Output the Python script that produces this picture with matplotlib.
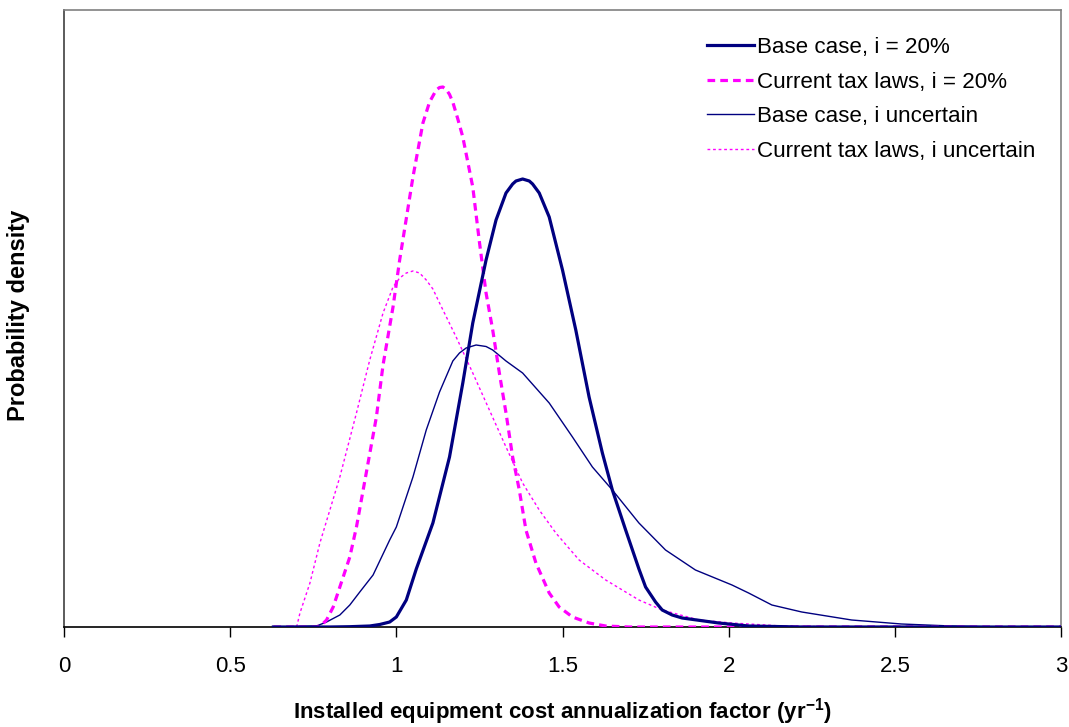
import matplotlib
matplotlib.use("Agg")
import matplotlib.pyplot as plt

plt.rcParams['font.family'] = ['Liberation Sans', 'DejaVu Sans']

# Base case, i = 20%
x_base20 = [0.63, 0.80, 0.86, 0.92, 0.95, 0.98, 1.00, 1.03, 1.06, 1.11, 1.16, 1.20, 1.23,
            1.27, 1.30, 1.33, 1.35, 1.36, 1.38, 1.40, 1.41, 1.43, 1.46, 1.50, 1.54, 1.58,
            1.62, 1.65, 1.69, 1.73, 1.75, 1.78, 1.80, 1.83, 1.86, 1.97, 2.06, 2.22, 3.00]
y_base20 = [0, 0, 0.3, 1, 2.5, 5, 10, 27, 58, 104, 170, 244, 304,
            367, 407, 434, 443, 446, 448, 446, 443, 434, 410, 357, 297, 230,
            174, 137, 97, 58, 40, 25, 17, 12, 9, 4, 1, 0, 0]

# Current tax laws, i = 20%
x_tax20 = [0.63, 0.76, 0.775, 0.79, 0.81, 0.83, 0.86, 0.88, 0.91, 0.94, 0.96, 0.99, 1.01,
           1.05, 1.08, 1.10, 1.12, 1.13, 1.14, 1.15, 1.16, 1.17, 1.185, 1.20, 1.23, 1.25,
           1.27, 1.29, 1.31, 1.33, 1.35, 1.37, 1.39, 1.42, 1.46, 1.49, 1.53, 1.58, 1.63,
           1.70, 3.00]
y_tax20 = [0, 0, 2, 7, 20, 40, 70, 100, 155, 210, 262, 320, 367,
           450, 504, 525, 537, 539.5, 540, 537.6, 532.6, 524.8, 508, 490, 440, 385,
           334, 297, 254, 214, 170, 137, 97, 64, 34, 20, 10, 4, 1,
           0, 0]

# Base case, i uncertain
x_baseu = [0.63, 0.76, 0.79, 0.83, 0.86, 0.89, 0.93, 0.98, 1.00, 1.05, 1.09, 1.13, 1.17,
           1.19, 1.21, 1.24, 1.27, 1.29, 1.33, 1.38, 1.46, 1.53, 1.59, 1.65, 1.73, 1.81,
           1.90, 2.01, 2.06, 2.13, 2.22, 2.37, 2.52, 2.67, 2.82, 3.00]
y_baseu = [0, 1, 5, 12, 22, 35, 52, 87, 100, 150, 197, 235, 266,
           274, 279, 282, 280.5, 277, 266, 254, 224, 190, 160, 137, 104, 77,
           57, 42, 34, 22, 15, 7, 3, 1, 0, 0]

# Current tax laws, i uncertain
x_taxu = [0.70, 0.71, 0.74, 0.77, 0.83, 0.88, 0.92, 0.96, 0.99, 1.01, 1.03, 1.05, 1.07,
          1.09, 1.11, 1.13, 1.18, 1.23, 1.28, 1.33, 1.38, 1.43, 1.48, 1.55, 1.63, 1.73,
          1.80, 1.91, 2.01, 2.16, 2.37, 3.00]
y_taxu = [0, 14, 44, 84, 150, 214, 267, 314, 340, 349, 354, 356, 354,
          347, 338, 324, 290, 254, 217, 180, 144, 117, 94, 67, 47, 27,
          17, 7, 4, 1, 0, 0]

labels = ["Base case, i = 20%", "Current tax laws, i = 20%",
          "Base case, i uncertain", "Current tax laws, i uncertain"]
xticks = [0, 0.5, 1, 1.5, 2, 2.5, 3]
xticklabels = ["0", "0.5", "1", "1.5", "2", "2.5", "3"]

navy = "#000080"
magenta = "#FF00FF"

fig = plt.figure(figsize=(10.69, 7.27), dpi=100)
ax = fig.add_axes([64/1069, 1-627/727, (1061-64)/1069, (627-10)/727])

ax.plot(x_base20, y_base20, color=navy, lw=2.3, label=labels[0], zorder=4)
ax.plot(x_tax20, y_tax20, color=magenta, lw=2.3, ls=(0, (2.4, 1.6)), label=labels[1], zorder=3)
ax.plot(x_baseu, y_baseu, color=navy, lw=1.0, label=labels[2], zorder=2)
ax.plot(x_taxu, y_taxu, color=magenta, lw=1.0, ls=(0, (2, 2)), label=labels[3], zorder=1)

ax.set_xlim(0, 3)
ax.set_ylim(0, 617)
ax.set_xticks(xticks)
ax.set_xticklabels(xticklabels)
ax.set_yticks([])
ax.tick_params(axis='x', direction='out', length=7, width=1, color='black',
               labelsize=16, pad=14)

ax.spines['bottom'].set_color('black')
ax.spines['bottom'].set_linewidth(1.2)
ax.spines['left'].set_color('#404040')
ax.spines['left'].set_linewidth(1.2)
ax.spines['top'].set_color('#808080')
ax.spines['top'].set_linewidth(1.2)
ax.spines['right'].set_color('#808080')
ax.spines['right'].set_linewidth(1.2)

ax.set_xlabel("Installed equipment cost annualization factor (yr$^{\\mathregular{-1}}$)",
              fontsize=16, fontweight='bold')
ax.xaxis.set_label_coords(0.5, -0.112)
ax.set_ylabel("Probability density", fontsize=17, fontweight='bold')
ax.yaxis.set_label_coords(-0.034, 0.505)

leg = ax.legend(loc='upper left', bbox_to_anchor=(707/1069, 1-37/727),
                bbox_transform=fig.transFigure, frameon=False, fontsize=16.1,
                handlelength=2.1, handletextpad=0.15, labelspacing=0.61,
                borderaxespad=0, borderpad=0)

fig.savefig("out.png", dpi=100)
